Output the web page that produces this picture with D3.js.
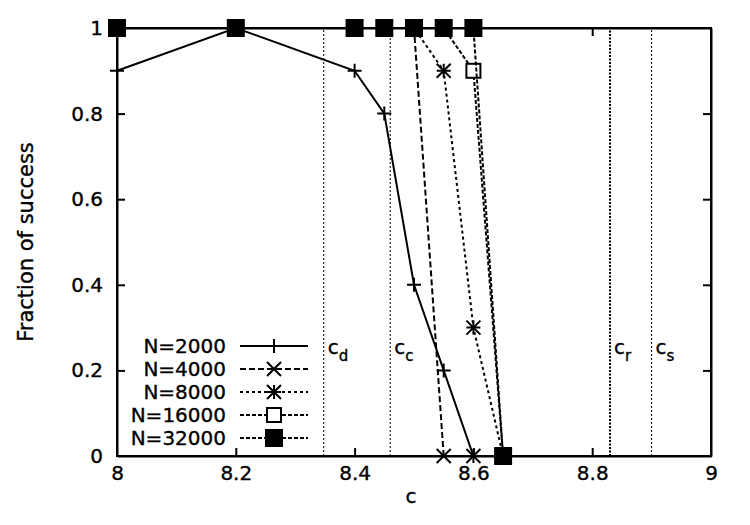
<!DOCTYPE html>
<html>
<head>
<meta charset="utf-8">
<script src="https://cdn.jsdelivr.net/npm/d3@7"></script>
<style>
  body { margin: 0; background: #fff; }
  svg { display: block; font-family: "DejaVu Sans", sans-serif; }
  svg text { stroke: #000; stroke-width: 0.35px; }
</style>
</head>
<body>
<div id="chart"></div>
<script>
// data
const cValues = [8, 8.2, 8.4, 8.45, 8.5, 8.55, 8.6, 8.65];
const n2000 = [0.9, 1, 0.9, 0.8, 0.4, 0.2, 0, 0];
const n4000 = [1, 1, 1, 1, 1, 0, 0, 0];
const n8000 = [1, 1, 1, 1, 1, 0.9, 0.3, 0];
const n16000 = [1, 1, 1, 1, 1, 1, 0.9, 0];
const n32000 = [1, 1, 1, 1, 1, 1, 1, 0];
const seriesNames = ["N=2000", "N=4000", "N=8000", "N=16000", "N=32000"];
const xTicks = [8, 8.2, 8.4, 8.6, 8.8, 9];
const yTicks = [0, 0.2, 0.4, 0.6, 0.8, 1];
const thresholdNames = ["d", "c", "r", "s"];
const thresholdValues = [8.348, 8.46, 8.83, 8.9];

const width = 750, height = 525;
const margin = {top: 28, right: 39, bottom: 69, left: 117};
const font = "\"DejaVu Sans\", sans-serif";

const x = d3.scaleLinear().domain([8, 9]).range([margin.left, width - margin.right]);
const y = d3.scaleLinear().domain([0, 1]).range([height - margin.bottom, margin.top]);

const svg = d3.select("#chart").append("svg")
    .attr("width", width)
    .attr("height", height);

// threshold lines
const thrWidth = [1, 1, 2, 1];
const thrDash = ["2,2", "2,2", "2,1.5", "2,2"];
svg.append("g")
  .selectAll("line")
  .data(thresholdValues)
  .join("line")
    .attr("x1", d => x(d)).attr("x2", d => x(d))
    .attr("y1", y(0)).attr("y2", y(1))
    .attr("stroke", "#000")
    .attr("stroke-width", (d, i) => thrWidth[i])
    .attr("stroke-dasharray", (d, i) => thrDash[i]);

const thrLabel = svg.append("g")
    .attr("font-size", 20)
  .selectAll("text")
  .data(thresholdValues)
  .join("text")
    .attr("x", d => x(d) + 4)
    .attr("y", 354);
thrLabel.append("tspan").text("c");
thrLabel.append("tspan")
    .attr("font-size", 15)
    .attr("dy", 7)
    .text((d, i) => thresholdNames[i]);

// axes (gnuplot style: box with inward ticks on all sides)
const tickLen = 8;
const axes = svg.append("g");

axes.append("g")
    .attr("transform", `translate(0,${y(0)})`)
    .call(d3.axisBottom(x).tickValues(xTicks).tickSizeInner(-tickLen).tickSizeOuter(0).tickPadding(10)
      .tickFormat(d3.format("")));
axes.append("g")
    .attr("transform", `translate(0,${y(1)})`)
    .call(d3.axisTop(x).tickValues(xTicks).tickSizeInner(-tickLen).tickSizeOuter(0).tickFormat(""));
axes.append("g")
    .attr("transform", `translate(${x(8)},0)`)
    .call(d3.axisLeft(y).tickValues(yTicks).tickSizeInner(-tickLen).tickSizeOuter(0).tickPadding(14)
      .tickFormat(d3.format("")));
axes.append("g")
    .attr("transform", `translate(${x(9)},0)`)
    .call(d3.axisRight(y).tickValues(yTicks).tickSizeInner(-tickLen).tickSizeOuter(0).tickFormat(""));

axes.selectAll("g").attr("font-size", 20).attr("font-family", font);
axes.selectAll(".domain").attr("stroke-width", 2);
axes.selectAll(".tick line").attr("stroke-width", 2);
axes.selectAll("text").attr("fill", "#000");
// end ticks sit on the frame
axes.selectAll(".tick").filter(d => d === 8 || d === 9 || d === 0 || d === 1).select("line").remove();

svg.append("rect")
    .attr("x", x(8)).attr("y", y(1))
    .attr("width", x(9) - x(8)).attr("height", y(0) - y(1))
    .attr("fill", "none").attr("stroke", "#000").attr("stroke-width", 2);

// axis titles
svg.append("text")
    .attr("x", x(8.5) - 3).attr("y", 503)
    .attr("text-anchor", "middle").attr("font-size", 20)
    .text("c");
svg.append("text")
    .attr("transform", `translate(33,${y(0.5)}) rotate(-90)`)
    .attr("text-anchor", "middle").attr("font-size", 21)
    .text("Fraction of success");

// series
const seriesValues = [n2000, n4000, n8000, n16000, n32000];
const dashes = [null, "6,3", "3,3", "4,2", "4,2"];
const markers = ["plus", "cross", "star", "square", "filled"];

function drawMarker(g, type) {
  const s = 7;
  if (type === "plus" || type === "star") {
    g.append("path").attr("d", `M${-s},0H${s}M0,${-s}V${s}`);
  }
  if (type === "cross" || type === "star") {
    g.append("path").attr("d", `M${-s},${-s}L${s},${s}M${-s},${s}L${s},${-s}`);
  }
  if (type === "square") {
    g.append("rect").attr("x", -s).attr("y", -s).attr("width", 2 * s).attr("height", 2 * s)
      .attr("fill", "#fff");
  }
  if (type === "filled") {
    g.append("rect").attr("x", -8).attr("y", -8).attr("width", 16).attr("height", 16)
      .attr("fill", "#000");
  }
}

const line = d3.line().x(d => x(d[0])).y(d => y(d[1]));

seriesValues.forEach((vals, i) => {
  const pts = cValues.map((c, j) => [c, vals[j]]);
  const g = svg.append("g")
      .attr("stroke", "#000").attr("fill", "none").attr("stroke-width", 2);
  g.append("path")
      .attr("d", line(pts))
      .attr("stroke-dasharray", dashes[i]);
  g.selectAll("g")
    .data(pts)
    .join("g")
      .attr("transform", d => `translate(${x(d[0])},${y(d[1])})`)
      .each(function() { drawMarker(d3.select(this), markers[i]); });
});

// legend
const legend = svg.append("g").attr("font-size", 20);
seriesNames.forEach((name, i) => {
  const ly = 346 + i * 23;
  legend.append("text")
      .attr("x", 226).attr("y", ly + 7)
      .attr("text-anchor", "end")
      .text(name);
  const g = legend.append("g").attr("stroke", "#000").attr("fill", "none").attr("stroke-width", 2);
  g.append("line")
      .attr("x1", 240).attr("x2", 308).attr("y1", ly).attr("y2", ly)
      .attr("stroke-dasharray", dashes[i]);
  drawMarker(g.append("g").attr("transform", `translate(274,${ly})`), markers[i]);
});
</script>
</body>
</html>
